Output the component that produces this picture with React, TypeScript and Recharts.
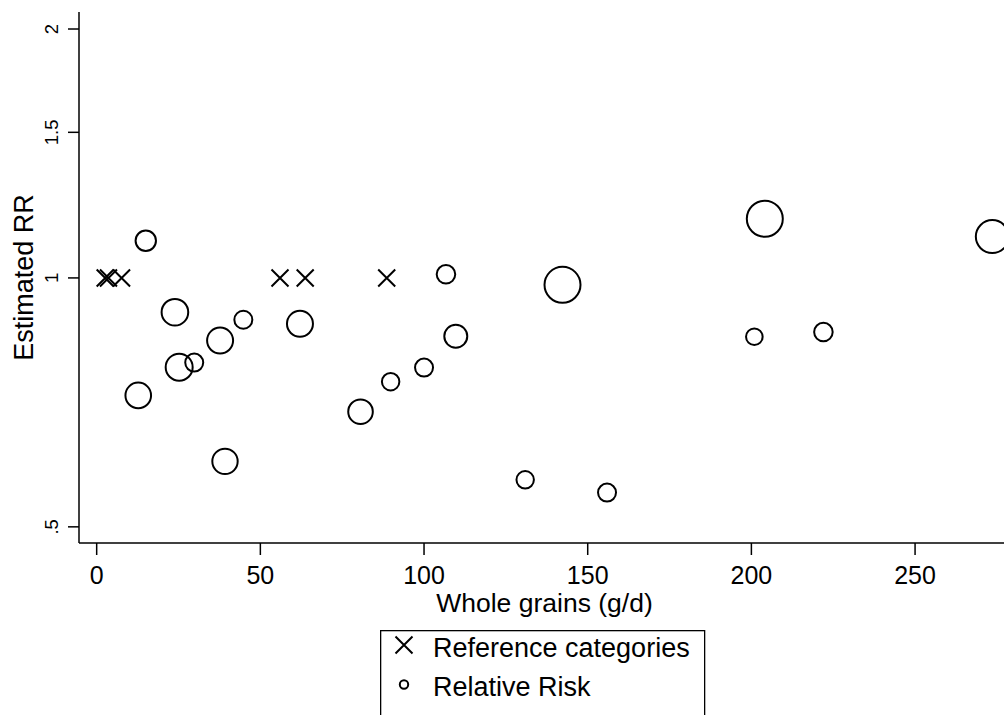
import React from 'react';
import { ScatterChart, Scatter, XAxis, YAxis, ZAxis, Legend } from 'recharts';

const FONT = '"Liberation Sans", Arial, Helvetica, sans-serif';

// Reference categories (RR fixed at 1)
const refIntake = [2.6, 3.6, 7.6, 56.0, 63.7, 88.6];
const refRR = [1, 1, 1, 1, 1, 1];

// Relative risk estimates by whole grain intake, with study weights
const rrIntake = [12.7, 15.0, 23.9, 25.2, 29.8, 37.7, 39.2, 44.8, 62.1, 80.6, 89.8, 100.0, 106.7, 109.7, 130.9, 142.3, 155.9, 200.9, 204.1, 222.0, 273.6];
const rrValue = [0.721, 1.109, 0.909, 0.78, 0.79, 0.84, 0.6, 0.89, 0.88, 0.689, 0.749, 0.779, 1.01, 0.85, 0.57, 0.981, 0.55, 0.849, 1.179, 0.86, 1.122];
const rrWeight = [164, 104, 177, 182, 81, 169, 161, 81, 169, 151, 76, 81, 86, 132, 76, 324, 81, 69, 324, 86, 272];

const xTicks = [0, 50, 100, 150, 200, 250];
const yTicks = [0.5, 1, 1.5, 2];
const yTickLabels = ['.5', '1', '1.5', '2'];

const refData = refIntake.map((x, i) => ({ x, y: refRR[i] }));
const rrData = rrIntake.map((x, i) => ({ x, y: rrValue[i], w: rrWeight[i] }));

const Cross = (props: any) => {
  const { cx, cy } = props;
  const h = 8.5;
  return (
    <path
      d={`M${cx - h},${cy - h}L${cx + h},${cy + h}M${cx - h},${cy + h}L${cx + h},${cy - h}`}
      stroke="#000"
      strokeWidth={2}
      fill="none"
    />
  );
};

const Ring = (props: any) => {
  const { cx, cy, size, width } = props;
  const r = size != null ? Math.sqrt(size / Math.PI) : width / 2;
  return <circle cx={cx} cy={cy} r={r} fill="none" stroke="#000" strokeWidth={2} />;
};

const YTick = (props: any) => {
  const { x, y, payload } = props;
  const idx = yTicks.indexOf(payload.value);
  return (
    <text
      transform={`translate(${x},${y}) rotate(-90)`}
      textAnchor="middle"
      fontSize={18.5}
      fill="#000"
      fontFamily={FONT}
    >
      {idx >= 0 ? yTickLabels[idx] : payload.value}
    </text>
  );
};

const YTitle = (props: any) => {
  const vb = props.viewBox;
  const cy = vb.y + vb.height / 2;
  return (
    <text
      transform={`translate(${vb.x + 33},${cy}) rotate(-90)`}
      textAnchor="middle"
      fontSize={27}
      fill="#000"
      fontFamily={FONT}
    >
      Estimated RR
    </text>
  );
};

const XTitle = (props: any) => {
  const vb = props.viewBox;
  return (
    <text
      x={vb.x + vb.width / 2}
      y={vb.y + 69}
      textAnchor="middle"
      fontSize={26.5}
      fill="#000"
      fontFamily={FONT}
    >
      Whole grains (g/d)
    </text>
  );
};

const LegendBox = () => (
  <svg width={326} height={130} style={{ display: 'block' }}>
    <rect x={0.65} y={0.65} width={324} height={128} fill="#fff" stroke="#000" strokeWidth={1.3} />
    <path d="M15.5,7L32.5,24M15.5,24L32.5,7" stroke="#000" strokeWidth={2} fill="none" transform="translate(0,-0.5)" />
    <text x={53} y={26.5} fontSize={27} fill="#000" fontFamily={FONT}>Reference categories</text>
    <circle cx={24} cy={54.5} r={4.2} fill="none" stroke="#000" strokeWidth={2} />
    <text x={53} y={66} fontSize={27} fill="#000" fontFamily={FONT}>Relative Risk</text>
  </svg>
);

export default function App() {
  return (
    <div
      style={{
        position: 'absolute',
        left: 0,
        top: 0,
        width: 1004,
        height: 715,
        overflow: 'hidden',
        background: '#fff',
      }}
    >
      <ScatterChart
        width={1010}
        height={760}
        margin={{ top: 12, right: 0, bottom: 0, left: 0 }}
        style={{ fontFamily: FONT }}
      >
        <XAxis
          type="number"
          dataKey="x"
          domain={[-5.4, 279]}
          allowDataOverflow
          ticks={xTicks}
          height={217}
          tickSize={12}
          tickMargin={11}
          axisLine={{ stroke: '#000', strokeWidth: 1.5 }}
          tickLine={{ stroke: '#000', strokeWidth: 1.5 }}
          tick={{ fontSize: 25, fill: '#000', fontFamily: FONT }}
          label={{ content: XTitle }}
        />
        <YAxis
          type="number"
          dataKey="y"
          scale="log"
          domain={[0.478, 2.097]}
          allowDataOverflow
          ticks={yTicks}
          width={79}
          tickSize={11}
          tickMargin={10}
          axisLine={{ stroke: '#000', strokeWidth: 1.5 }}
          tickLine={{ stroke: '#000', strokeWidth: 1.5 }}
          tick={<YTick />}
          label={{ content: YTitle }}
        />
        <ZAxis zAxisId="w" type="number" dataKey="w" domain={[0, 400]} range={[0, 400 * Math.PI]} />
        <Scatter
          name="Reference categories"
          data={refData}
          shape={<Cross />}
          isAnimationActive={false}
        />
        <Scatter
          name="Relative Risk"
          data={rrData}
          zAxisId="w"
          shape={<Ring />}
          isAnimationActive={false}
        />
        <Legend
          layout="horizontal"
          verticalAlign="middle"
          align="center"
          wrapperStyle={{ left: 380, top: 630, width: 326, height: 130 }}
          content={() => <LegendBox />}
        />
      </ScatterChart>
    </div>
  );
}
